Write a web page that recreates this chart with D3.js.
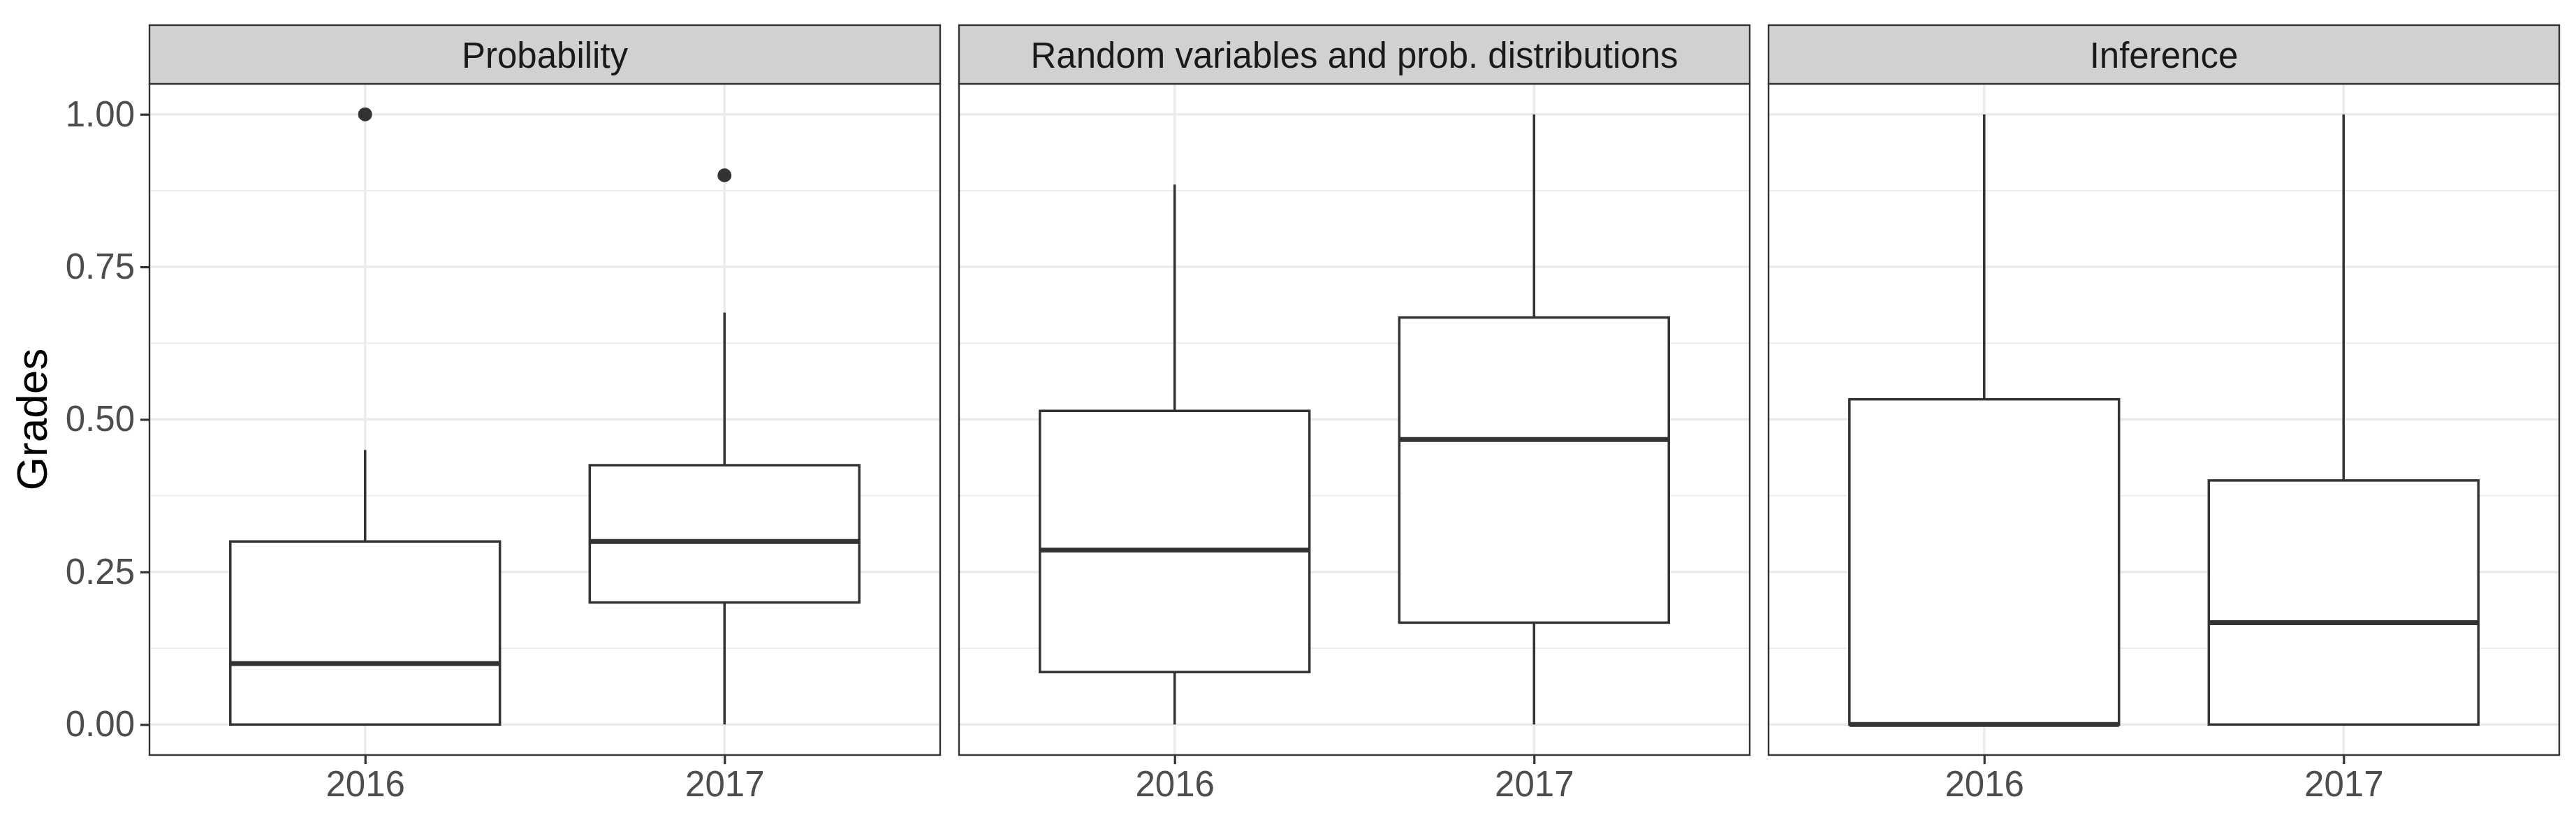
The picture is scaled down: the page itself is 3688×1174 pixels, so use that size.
<!DOCTYPE html>
<html>
<head>
<meta charset="utf-8">
<script src="https://cdn.jsdelivr.net/npm/d3@7"></script>
<style>
  html, body { margin: 0; padding: 0; background: #ffffff; }
  svg { display: block; font-family: "Liberation Sans", Arial, sans-serif; }
</style>
</head>
<body>
<svg id="chart" width="3688" height="1174"></svg>
<script>
// facet panels and x categories
const facets = ["Probability", "Random variables and prob. distributions", "Inference"];
const years  = ["2016", "2017"];

// box stats per facet, in the order of years: [lower, q1, median, q3, upper]
const probabilityStats = [[0, 0, 0.10, 0.30, 0.45], [0, 0.20, 0.30, 0.425, 0.675]];
const randomVarStats   = [[0, 0.086, 0.286, 0.514, 0.885], [0, 0.167, 0.467, 0.667, 1.00]];
const inferenceStats   = [[0, 0, 0, 0.533, 1.00], [0, 0, 0.167, 0.40, 1.00]];

// outliers per facet: [year, value]
const probabilityOutliers = [["2016", 1.00], ["2017", 0.90]];
const randomVarOutliers   = [];
const inferenceOutliers   = [];

const yTicks      = [0, 0.25, 0.50, 0.75, 1.00];
const yMinorTicks = [0.125, 0.375, 0.625, 0.875];

const statsByFacet    = [probabilityStats, randomVarStats, inferenceStats];
const outliersByFacet = [probabilityOutliers, randomVarOutliers, inferenceOutliers];

// layout
const panelLeft  = 214;
const panelWidth = 1132;
const panelGap   = 27;
const stripTop   = 36;
const plotTop    = 120;
const plotBottom = 1081;

const svg = d3.select("#chart");

const y = d3.scaleLinear().domain([-0.05, 1.05]).range([plotBottom, plotTop]);

facets.forEach((facet, fi) => {
	const x0 = panelLeft + fi * (panelWidth + panelGap);
	const x  = d3.scalePoint().domain(years).range([x0, x0 + panelWidth]).padding(0.6);
	const boxW = x.step() * 0.75;
	const g = svg.append("g");

	// grid
	g.selectAll(".minor").data(yMinorTicks).join("line")
		.attr("x1", x0).attr("x2", x0 + panelWidth)
		.attr("y1", d => y(d)).attr("y2", d => y(d))
		.attr("stroke", "#ebebeb").attr("stroke-width", 1.8);
	g.selectAll(".major").data(yTicks).join("line")
		.attr("x1", x0).attr("x2", x0 + panelWidth)
		.attr("y1", d => y(d)).attr("y2", d => y(d))
		.attr("stroke", "#ebebeb").attr("stroke-width", 3.5);
	g.selectAll(".vmajor").data(years).join("line")
		.attr("x1", d => x(d)).attr("x2", d => x(d))
		.attr("y1", plotTop).attr("y2", plotBottom)
		.attr("stroke", "#ebebeb").attr("stroke-width", 3.5);

	// boxes
	const stats = statsByFacet[fi];
	years.forEach((yr, i) => {
		const [lo, q1, med, q3, hi] = stats[i];
		const cx = x(yr);
		g.append("line")
			.attr("x1", cx).attr("x2", cx).attr("y1", y(q3)).attr("y2", y(hi))
			.attr("stroke", "#333333").attr("stroke-width", 3.5);
		g.append("line")
			.attr("x1", cx).attr("x2", cx).attr("y1", y(lo)).attr("y2", y(q1))
			.attr("stroke", "#333333").attr("stroke-width", 3.5);
		g.append("rect")
			.attr("x", cx - boxW / 2).attr("width", boxW)
			.attr("y", y(q3)).attr("height", y(q1) - y(q3))
			.attr("fill", "#ffffff").attr("stroke", "#333333").attr("stroke-width", 3.5);
		g.append("line")
			.attr("x1", cx - boxW / 2).attr("x2", cx + boxW / 2)
			.attr("y1", y(med)).attr("y2", y(med))
			.attr("stroke", "#333333").attr("stroke-width", 7);
	});

	g.selectAll(".outlier").data(outliersByFacet[fi]).join("circle")
		.attr("cx", d => x(d[0])).attr("cy", d => y(d[1])).attr("r", 10)
		.attr("fill", "#333333");

	// panel border
	g.append("rect")
		.attr("x", x0).attr("y", plotTop).attr("width", panelWidth).attr("height", plotBottom - plotTop)
		.attr("fill", "none").attr("stroke", "#333333").attr("stroke-width", 2.4);

	// strip
	g.append("rect")
		.attr("x", x0).attr("y", stripTop).attr("width", panelWidth).attr("height", plotTop - stripTop)
		.attr("fill", "#d1d1d1").attr("stroke", "#333333").attr("stroke-width", 2.4);
	g.append("text")
		.attr("x", x0 + panelWidth / 2).attr("y", (stripTop + plotTop) / 2 + 1)
		.attr("text-anchor", "middle").attr("dominant-baseline", "central")
		.attr("font-size", 51).attr("fill", "#1a1a1a")
		.text(facet);

	// x axis
	const xAxis = g.append("g")
		.attr("transform", `translate(0,${plotBottom})`)
		.call(d3.axisBottom(x).tickSize(13).tickPadding(10));
	xAxis.select(".domain").remove();
	xAxis.selectAll(".tick line").attr("stroke", "#333333").attr("stroke-width", 3.2);
	xAxis.selectAll(".tick text").attr("font-size", 51).attr("fill", "#4d4d4d")
		.attr("font-family", "Liberation Sans, Arial, sans-serif");

	// y axis on first panel only
	if (fi === 0) {
		const yAxis = g.append("g")
			.attr("transform", `translate(${x0},0)`)
			.call(d3.axisLeft(y).tickValues(yTicks).tickFormat(d3.format(".2f")).tickSize(13).tickPadding(8));
		yAxis.select(".domain").remove();
		yAxis.selectAll(".tick line").attr("stroke", "#333333").attr("stroke-width", 3.2);
		yAxis.selectAll(".tick text").attr("font-size", 51).attr("fill", "#4d4d4d")
			.attr("font-family", "Liberation Sans, Arial, sans-serif");
	}
});

svg.append("text")
	.attr("transform", `translate(45,${(plotTop + plotBottom) / 2}) rotate(-90)`)
	.attr("text-anchor", "middle").attr("dominant-baseline", "central")
	.attr("font-size", 62).attr("fill", "#000000")
	.text("Grades");
</script>
</body>
</html>
